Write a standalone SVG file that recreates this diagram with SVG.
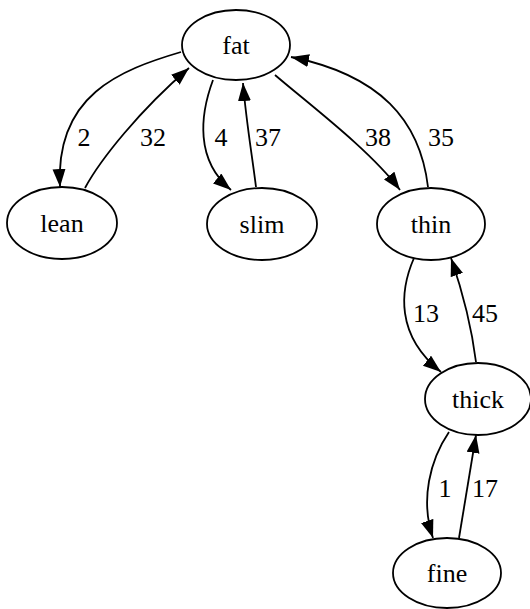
<svg xmlns="http://www.w3.org/2000/svg" width="530" height="609" viewBox="0 0 530 609">
<defs>
<marker id="ah" markerUnits="userSpaceOnUse" markerWidth="20" markerHeight="14" refX="18" refY="6.5" orient="auto">
<path d="M0,0 L18,6.5 L0,13 z" fill="#000"/>
</marker>
<style>
.node ellipse{fill:none;stroke:#000;stroke-width:1.8}
.node text{font-family:"Liberation Serif","Times New Roman",serif;font-size:26px;text-anchor:middle;fill:#000}
.edges path{fill:none;stroke:#000;stroke-width:1.8;marker-end:url(#ah)}
.edges text{font-family:"Liberation Serif","Times New Roman",serif;font-size:26px;text-anchor:middle;fill:#000}
</style>
</defs>
<rect width="530" height="609" fill="#fff"/>
<g class="edges" id="edges">
<path d="M181,52 C120,70 55,95 60,187"/>
<text x="84" y="146">2</text>
<path d="M85,188 C100,160 140,110 189,68"/>
<text x="153" y="146">32</text>
<path d="M213,80 C200,115 195,160 231,190"/>
<text x="221" y="146">4</text>
<path d="M256,187 C252,155 246,120 243,83"/>
<text x="268" y="146">37</text>
<path d="M275,75 C310,105 370,150 400,190"/>
<text x="378" y="146">38</text>
<path d="M428,187 C420,120 380,75 291,57"/>
<text x="441" y="146">35</text>
<path d="M414,258 C400,290 395,335 441,372"/>
<text x="426" y="322">13</text>
<path d="M476,362 C472,330 462,290 451,258"/>
<text x="485" y="322">45</text>
<path d="M449,432 C430,460 420,500 433,538"/>
<text x="445" y="497">1</text>
<path d="M459,538 L476,435"/>
<text x="485" y="497">17</text>
</g>
<g class="node" id="fat"><ellipse cx="236" cy="45" rx="54" ry="35"/><text x="236" y="54">fat</text></g>
<g class="node" id="lean"><ellipse cx="62" cy="223" rx="55" ry="36"/><text x="62" y="232">lean</text></g>
<g class="node" id="slim"><ellipse cx="262" cy="224" rx="55" ry="36"/><text x="262" y="233">slim</text></g>
<g class="node" id="thin"><ellipse cx="431" cy="224" rx="54" ry="36"/><text x="431" y="233">thin</text></g>
<g class="node" id="thick"><ellipse cx="478" cy="399" rx="53" ry="36"/><text x="478" y="408">thick</text></g>
<g class="node" id="fine"><ellipse cx="447" cy="573" rx="54" ry="35"/><text x="447" y="582">fine</text></g>
</svg>
